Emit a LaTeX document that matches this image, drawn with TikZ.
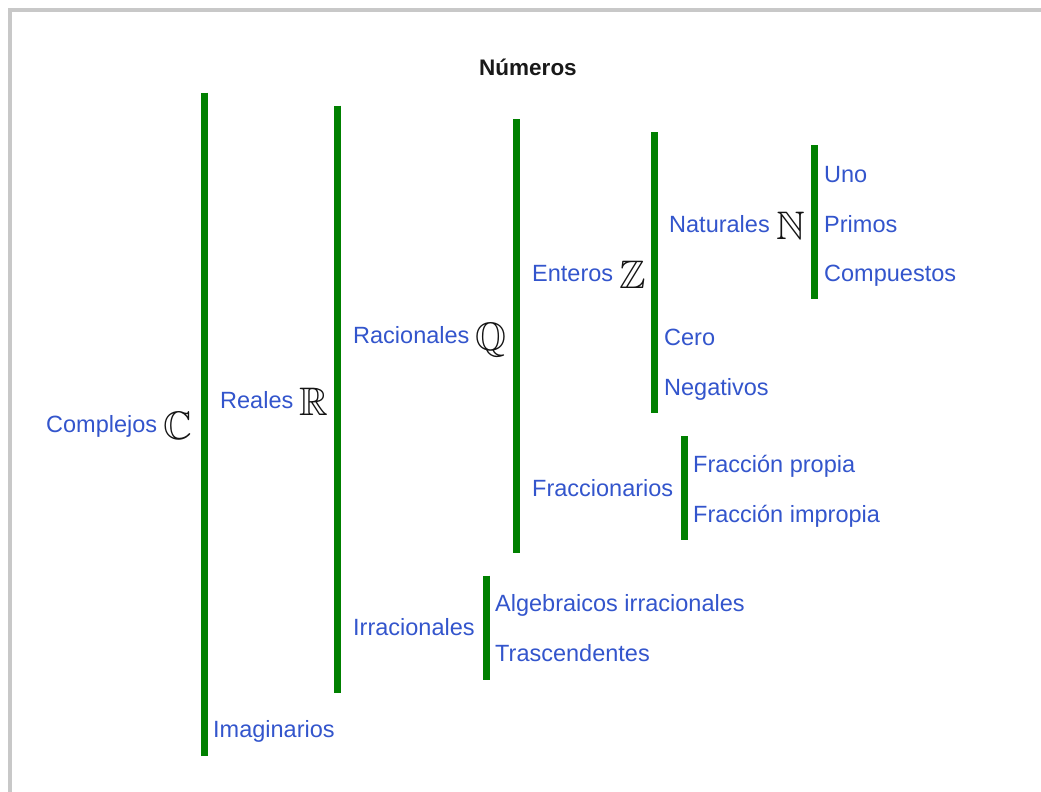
\documentclass[tikz,border=0pt]{standalone}
\usepackage{fontspec}
\setmainfont{Liberation Sans}
\usepackage{amssymb}
\usepackage{graphicx}
\definecolor{lblblue}{RGB}{51,85,204}
\definecolor{bargreen}{RGB}{0,128,0}
\definecolor{framegray}{RGB}{200,200,200}
\definecolor{symgray}{RGB}{20,20,20}
\newcommand{\bbsym}[1]{\raisebox{-7pt}{\textcolor{symgray}{\scalebox{1.6}{\fontsize{24.88}{26}\selectfont$\mathbb{#1}$}}}}
\tikzset{
  lab/.style={anchor=base west, inner sep=0pt, text=lblblue, font=\fontsize{23.5}{28}\selectfont},
  ttl/.style={anchor=base, inner sep=0pt, text=black!90, font=\fontsize{22.5}{27}\selectfont\bfseries},
  bar/.style={draw=bargreen, line width=7pt},
  framing/.style={draw=framegray, line width=4.5pt}
}
\begin{document}
\begin{tikzpicture}[x=1pt,y=-1pt]
\useasboundingbox (0,0) rectangle (1041,792);
% frame
\coordinate (f1) at (10,800);
\coordinate (f2) at (10,10);
\coordinate (f3) at (1050,10);
\draw[framing] (f1) -- (f2) -- (f3);
% title
\node[ttl] (title) at (528,75) {Números};
% bars
\coordinate (cT) at (204,92.5);   \coordinate (cB) at (204,756);
\coordinate (rT) at (337.5,105.5); \coordinate (rB) at (337.5,692.5);
\coordinate (qT) at (516.5,119);  \coordinate (qB) at (516.5,553);
\coordinate (zT) at (654,132);    \coordinate (zB) at (654,413);
\coordinate (nT) at (814,145);    \coordinate (nB) at (814,299);
\coordinate (fT) at (684.5,436);  \coordinate (fB) at (684.5,540);
\coordinate (iT) at (486.5,575.5); \coordinate (iB) at (486.5,679.5);
\draw[bar] (cT) -- (cB);
\draw[bar] (rT) -- (rB);
\draw[bar] (qT) -- (qB);
\draw[bar] (zT) -- (zB);
\draw[bar] (nT) -- (nB);
\draw[bar] (fT) -- (fB);
\draw[bar] (iT) -- (iB);
% labels
\node[lab] (complejos) at (46,432) {Complejos \bbsym{C}};
\node[lab] (reales) at (220,408) {Reales \bbsym{R}};
\node[lab] (imaginarios) at (213,737) {Imaginarios};
\node[lab] (racionales) at (353,343) {Racionales \bbsym{Q}};
\node[lab] (irracionales) at (353,635) {Irracionales};
\node[lab] (enteros) at (532,281) {Enteros \bbsym{Z}};
\node[lab] (fraccionarios) at (532,496) {Fraccionarios};
\node[lab] (naturales) at (669,232) {Naturales \bbsym{N}};
\node[lab] (cero) at (664,345) {Cero};
\node[lab] (negativos) at (664,395) {Negativos};
\node[lab] (uno) at (824,182) {Uno};
\node[lab] (primos) at (824,232) {Primos};
\node[lab] (compuestos) at (824,281) {Compuestos};
\node[lab] (propia) at (693,472) {Fracción propia};
\node[lab] (impropia) at (693,522) {Fracción impropia};
\node[lab] (algebraicos) at (495,611) {Algebraicos irracionales};
\node[lab] (trascendentes) at (495,661) {Trascendentes};
\end{tikzpicture}
\end{document}
